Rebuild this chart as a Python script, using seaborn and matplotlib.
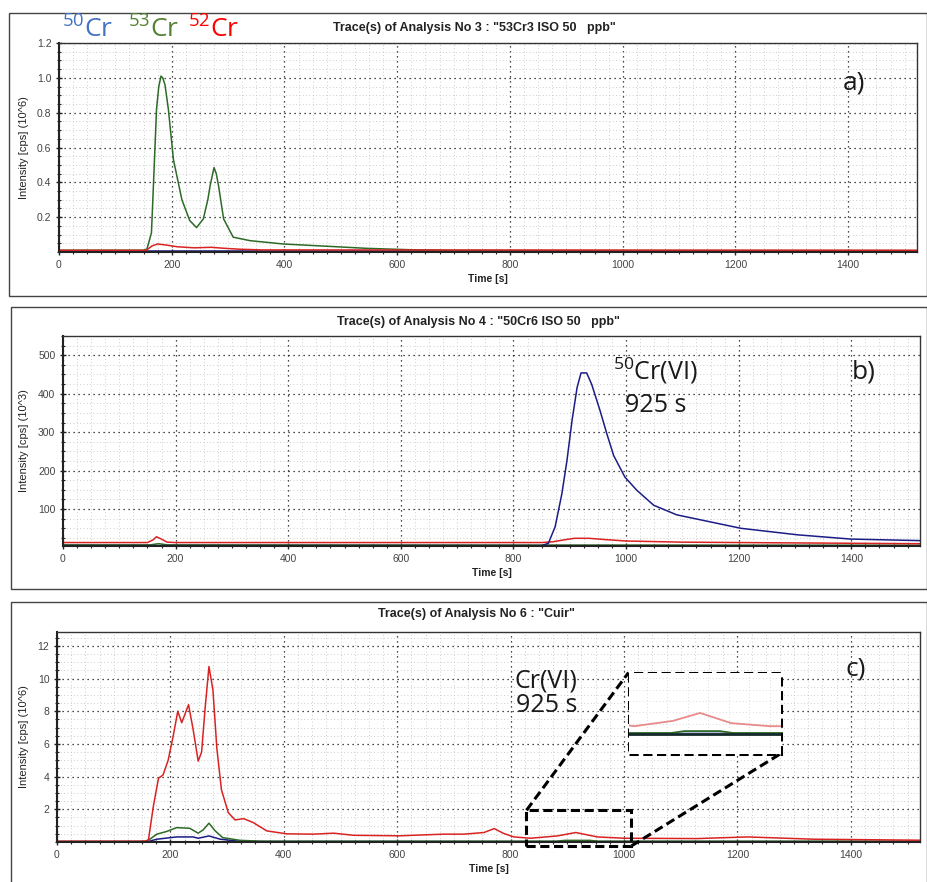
import numpy as np
import pandas as pd
import matplotlib
matplotlib.use("Agg")
from matplotlib import pyplot as plt
from matplotlib.patches import Rectangle
from matplotlib.ticker import MultipleLocator
import seaborn as sns

# a) 53Cr(III) isotopic standard, 50 ppb  (intensity in 10^6 cps)
a_time_green = [0, 150, 156, 164, 169, 173, 177, 181, 184, 188, 194, 203, 218, 232, 244, 256,
                264, 268, 275, 279, 283, 292, 309, 339, 398, 487, 546, 623, 700, 1000, 1522]
a_green = [0.01, 0.01, 0.017, 0.11, 0.50, 0.82, 0.95, 1.01, 1.0, 0.96, 0.82, 0.53, 0.30, 0.18,
           0.14, 0.19, 0.30, 0.38, 0.485, 0.45, 0.38, 0.19, 0.085, 0.065, 0.046, 0.031, 0.021,
           0.013, 0.009, 0.008, 0.008]
a_time_red = [0, 155, 165, 175, 190, 210, 240, 270, 290, 320, 360, 1522]
a_red = [0.01, 0.01, 0.035, 0.046, 0.04, 0.03, 0.024, 0.027, 0.022, 0.016, 0.012, 0.01]
a_time_blue = [0, 1522]
a_blue = [0.005, 0.005]

# b) 50Cr(VI) isotopic standard, 50 ppb  (intensity in 10^3 cps)
b_time_blue = [0, 850, 862, 874, 886, 895, 904, 913, 920, 930, 939, 954, 966, 978, 998, 1019,
               1049, 1090, 1204, 1305, 1399, 1522]
b_blue = [5, 5, 11, 54, 140, 226, 330, 416, 454, 454, 424, 355, 295, 239, 183, 149, 110, 85,
          50, 33, 22, 18]
b_time_red = [0, 150, 160, 166, 172, 185, 200, 400, 850, 870, 890, 908, 934, 960, 1000, 1100,
              1300, 1522]
b_red = [13, 13, 20, 28, 24, 14, 13, 13, 13, 15, 20, 24, 24, 21, 17, 14, 12, 10]
b_time_green = [0, 155, 170, 185, 1522]
b_green = [7, 7, 10, 7, 6]

# c) leather sample "Cuir"  (intensity in 10^6 cps)
c_time_red = [0, 150, 161, 170, 179, 187, 196, 205, 213, 220, 232, 240, 249, 255, 261, 268,
              275, 282, 290, 302, 314, 329, 346, 370, 405, 452, 488, 523, 605, 682, 718, 753,
              771, 788, 806, 835, 882, 915, 953, 1000, 1129, 1218, 1335, 1522]
c_red = [0.05, 0.05, 0.07, 2.2, 3.9, 4.1, 5.0, 6.5, 8.0, 7.3, 8.4, 6.9, 4.95, 5.5, 8.1, 10.74,
         9.3, 5.7, 3.2, 1.8, 1.35, 1.43, 1.19, 0.68, 0.50, 0.48, 0.54, 0.41, 0.38, 0.48, 0.48,
         0.58, 0.82, 0.52, 0.31, 0.23, 0.37, 0.58, 0.31, 0.23, 0.21, 0.31, 0.17, 0.11]
c_time_green = [0, 155, 165, 176, 193, 211, 234, 249, 258, 268, 279, 292, 323, 360, 880, 896,
                939, 955, 1522]
c_green = [0.03, 0.03, 0.2, 0.48, 0.64, 0.88, 0.84, 0.54, 0.75, 1.15, 0.68, 0.27, 0.1, 0.05,
           0.05, 0.1, 0.1, 0.05, 0.05]
c_time_blue = [0, 160, 176, 211, 240, 249, 268, 288, 323, 360, 1522]
c_blue = [0.02, 0.02, 0.17, 0.31, 0.31, 0.23, 0.37, 0.17, 0.04, 0.03, 0.02]

# zoom window of panel c (source region -> enlarged box)
zoom_src = (828, 1013, -0.24, 1.94)
zoom_dst = (1008, 1276, 5.4, 10.37)

GREEN = "#2d6a27"
RED = "#d92323"
BLUE = "#1c1c86"

W, H = 928, 882


def fx(x):
    return x / W


def fy(y):
    return 1 - y / H


def trace(t, v):
    return pd.DataFrame({"time": t, "value": v})


sns.set_theme(style="white")
plt.rcParams["font.family"] = ["Liberation Sans", "DejaVu Sans"]
plt.rcParams["mathtext.default"] = "regular"

fig = plt.figure(figsize=(9.28, 8.82), dpi=100)


def setup_axes(ax, ylim, yticks, yminor, ylabel, ylabel_x):
    ax.set_xlim(0, 1522)
    ax.set_ylim(*ylim)
    ax.xaxis.set_major_locator(MultipleLocator(200))
    ax.xaxis.set_minor_locator(MultipleLocator(25))
    ax.set_yticks(yticks)
    ax.yaxis.set_minor_locator(MultipleLocator(yminor))
    ax.grid(which="major", color="#111111", linestyle=(0, (1, 3)), lw=0.9)
    ax.grid(which="minor", color="#bdbdbd", linestyle=(0, (1, 3)), lw=0.6)
    ax.tick_params(which="major", direction="inout", length=5, width=1, color="#222",
                   labelsize=7.5, labelcolor="#444", pad=3, bottom=True, left=True)
    ax.tick_params(which="minor", direction="inout", length=3, width=0.8, color="#222",
                   bottom=True, left=True)
    for side in ["left", "bottom"]:
        ax.spines[side].set_linewidth(1.5)
        ax.spines[side].set_color("#222")
    for side in ["top", "right"]:
        ax.spines[side].set_linewidth(1.0)
        ax.spines[side].set_color("#333")
    ax.set_xlabel("Time [s]", fontsize=7.5, fontweight="bold", color="#222", labelpad=3)
    ax.set_ylabel(ylabel, fontsize=8, color="#222")
    ax.yaxis.set_label_coords(ylabel_x, 0.5)


def draw(ax, t, v, color, lw=1.1):
    sns.lineplot(data=trace(t, v), x="time", y="value", color=color, lw=lw, ax=ax,
                 legend=False)


# frames around each panel
for top, bottom, left in [(13, 296, 9), (307, 589, 11), (602, 895, 11)]:
    fig.add_artist(Rectangle((fx(left), fy(bottom)), fx(927 - left), (bottom - top) / H,
                             transform=fig.transFigure, fill=False, ec="#444", lw=1.0))

# ---- panel a
ax_a = fig.add_axes([fx(59), fy(252), fx(917 - 59), (252 - 43) / H])
draw(ax_a, a_time_blue, a_blue, BLUE)
draw(ax_a, a_time_green, a_green, GREEN)
draw(ax_a, a_time_red, a_red, RED)
setup_axes(ax_a, (0, 1.2), [0.2, 0.4, 0.6, 0.8, 1.0, 1.2], 0.05,
           "Intensity [cps] (10^6)", -0.035)
ax_a.set_yticklabels(["0.2", "0.4", "0.6", "0.8", "1.0", "1.2"])
fig.text(fx(474), fy(28), 'Trace(s) of Analysis No 3 : "53Cr3 ISO 50   ppb"',
         ha="center", va="center", fontsize=9, fontweight="bold", color="#222")

# ---- panel b
ax_b = fig.add_axes([fx(63), fy(546), fx(920 - 63), (546 - 336) / H])
draw(ax_b, b_time_green, b_green, GREEN)
draw(ax_b, b_time_red, b_red, RED)
draw(ax_b, b_time_blue, b_blue, BLUE)
setup_axes(ax_b, (4, 550), [100, 200, 300, 400, 500], 25,
           "Intensity [cps] (10^3)", -0.040)
fig.text(fx(478), fy(322), 'Trace(s) of Analysis No 4 : "50Cr6 ISO 50   ppb"',
         ha="center", va="center", fontsize=9, fontweight="bold", color="#222")

# ---- panel c
ax_c = fig.add_axes([fx(57), fy(842), fx(920 - 57), (842 - 632) / H])
draw(ax_c, c_time_blue, c_blue, BLUE)
draw(ax_c, c_time_green, c_green, GREEN)
draw(ax_c, c_time_red, c_red, RED)
setup_axes(ax_c, (0, 12.85), [2, 4, 6, 8, 10, 12], 0.5,
           "Intensity [cps] (10^6)", -0.033)
fig.text(fx(476), fy(614), 'Trace(s) of Analysis No 6 : "Cuir"',
         ha="center", va="center", fontsize=9, fontweight="bold", color="#222")

# zoomed inset of the Cr(VI) region
x0, x1, y0, y1 = zoom_dst
ax_in = ax_c.inset_axes([x0, y0, x1 - x0, y1 - y0], transform=ax_c.transData)
ax_in.set_facecolor("white")
draw(ax_in, c_time_red, c_red, "#e88a8a", lw=1.3)
ax_in.fill_between(c_time_green, 0, c_green, color="#b4b8e0", lw=0)
draw(ax_in, c_time_green, c_green, GREEN, lw=1.3)
ax_in.axhline(0.02, color="#142a2a", lw=2)
ax_in.set_xlim(zoom_src[0], zoom_src[1])
ax_in.set_ylim(-0.5, 1.65)
ax_in.xaxis.set_major_locator(MultipleLocator(25))
ax_in.yaxis.set_major_locator(MultipleLocator(0.3))
ax_in.grid(color="#d0d0d0", linestyle=(0, (1, 3)), lw=0.6)
ax_in.tick_params(labelbottom=False, labelleft=False, length=0)
ax_in.set_xlabel("")
ax_in.set_ylabel("")
for s in ax_in.spines.values():
    s.set_visible(False)

dash = dict(color="black", lw=2.2, linestyle=(0, (3, 1.5)), clip_on=False)
sx0, sx1, sy0, sy1 = zoom_src
ax_c.add_patch(Rectangle((sx0, sy0), sx1 - sx0, sy1 - sy0, fill=False, ec="black", lw=2.2,
                         linestyle=(0, (3, 1.5)), clip_on=False, zorder=5))
ax_c.add_patch(Rectangle((x0, y0), x1 - x0, y1 - y0, fill=False, ec="black", lw=2.2,
                         linestyle=(0, (3, 1.5)), clip_on=False, zorder=5))
ax_c.plot([sx0, x0], [sy1, y1], zorder=5, **dash)
ax_c.plot([sx1, x1], [sy0, y0], zorder=5, **dash)

# annotations
ann = dict(family=["Open Sans", "DejaVu Sans"], color="#1a1a1a")
fig.text(fx(62), fy(38), "$^{50}$Cr", fontsize=19, va="baseline", color="#4472c4",
         family=ann["family"])
fig.text(fx(128), fy(38), "$^{53}$Cr", fontsize=19, va="baseline", color="#548235",
         family=ann["family"])
fig.text(fx(188), fy(38), "$^{52}$Cr", fontsize=19, va="baseline", color="#ff0000",
         family=ann["family"])
fig.text(fx(843), fy(83), "a)", fontsize=19, va="center", **ann)
fig.text(fx(852), fy(372), "b)", fontsize=19, va="center", **ann)
fig.text(fx(846), fy(669), "c)", fontsize=19, va="center", **ann)
fig.text(fx(613), fy(371), "$^{50}$Cr(VI)", fontsize=18, va="center", **ann)
fig.text(fx(625), fy(406), "925 s", fontsize=18, va="center", **ann)
fig.text(fx(515), fy(681), "Cr(VI)", fontsize=18, va="center", **ann)
fig.text(fx(516), fy(705), "925 s", fontsize=18, va="center", **ann)

fig.savefig("out.png", dpi=100)
